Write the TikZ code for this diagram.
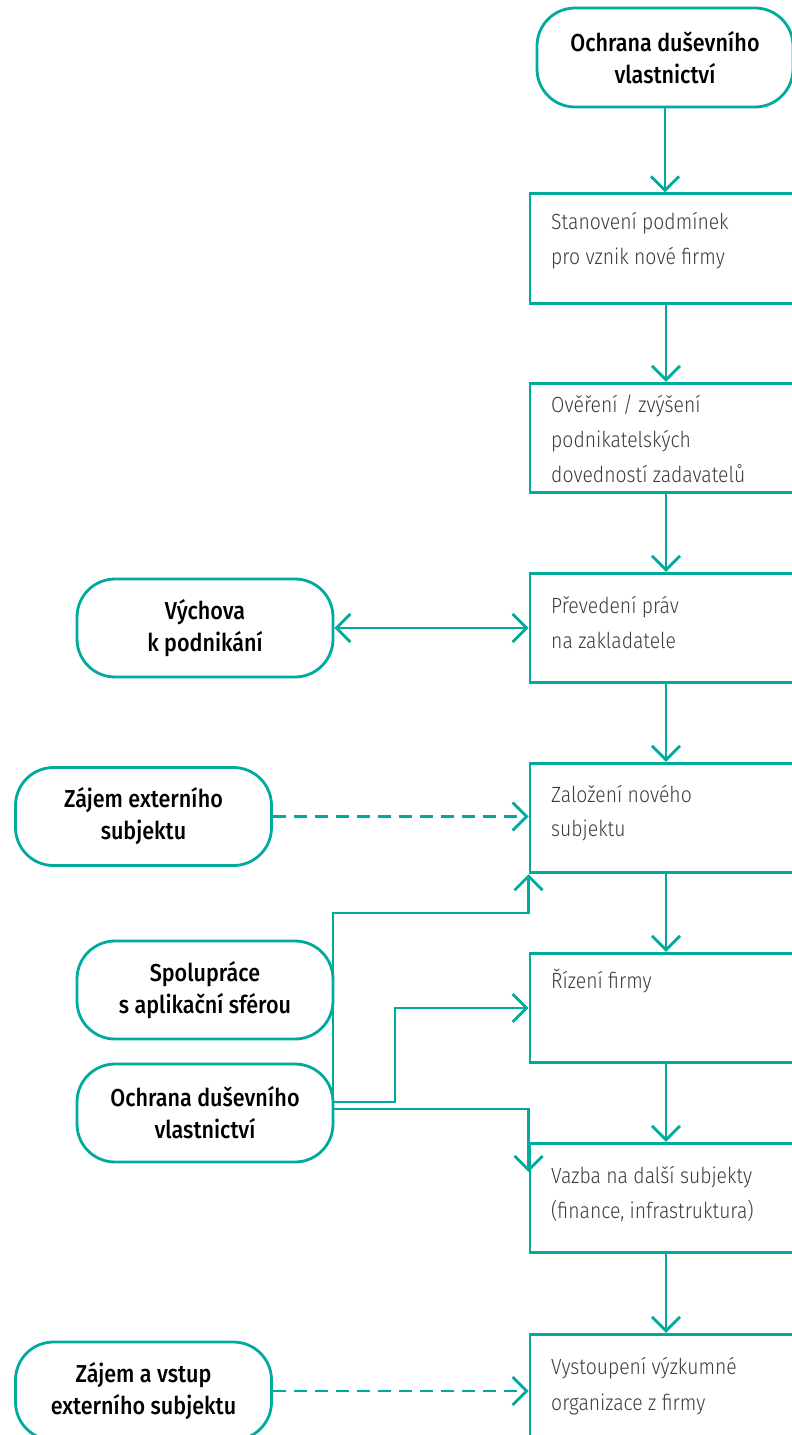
\documentclass[tikz,border=0pt]{standalone}
\usepackage{fontspec}
\usetikzlibrary{arrows.meta}
\definecolor{tealc}{RGB}{0,170,157}
\definecolor{txtgray}{RGB}{60,60,60}
\IfFontExistsTF{Fira Sans Light}{\newfontfamily\lightf[FakeStretch=0.88]{Fira Sans Light}}{\newfontfamily\lightf[FakeStretch=0.88]{Fira Sans}}
\IfFontExistsTF{Fira Sans Medium}{\newfontfamily\medf[FakeStretch=0.88]{Fira Sans Medium}}{\newfontfamily\medf[FakeStretch=0.88]{Fira Sans}}
\tikzset{
  term/.style={draw=tealc, line width=2.8pt, rounded corners=38pt, minimum width=256pt,
    minimum height=98pt, inner sep=0pt, align=center, text=black,
    font=\medf\fontsize{24.5}{32}\selectfont},
  proc/.style={draw=tealc, line width=2.8pt, minimum width=272pt, minimum height=109.5pt, inner sep=0pt},
  ptext/.style={anchor=base west, inner sep=0pt, text=txtgray, font=\lightf\fontsize{22}{35}\selectfont},
  arr/.style={draw=tealc, line width=2.8pt, -{Straight Barb[length=14pt,width=28pt]}},
  darr/.style={draw=tealc, line width=2.8pt, {Straight Barb[length=14pt,width=28pt]}-{Straight Barb[length=14pt,width=28pt]}},
  dsh/.style={dash pattern=on 13pt off 8pt}
}
\begin{document}
\begin{tikzpicture}[x=1pt,y=-1pt]
\useasboundingbox (0,0) rectangle (792,1435);
\clip (0,0) rectangle (792,1435);
\fill[white] (0,0) rectangle (792,1435);
% top terminal
\node[term, minimum height=99pt] (t0) at (665,57.5) {Ochrana duševního\\vlastnictví};
% left terminals
\node[term] (v) at (205,628) {Výchova\\k podnikání};
\node[term] (z1) at (143.5,816.5) {Zájem externího\\subjektu};
\node[term] (s) at (205,990) {Spolupráce\\s aplikační sférou};
\node[term] (o) at (205,1113) {Ochrana duševního\\vlastnictví};
\node[term] (z2) at (143.5,1391) {Zájem a vstup\\externího subjektu};
% process boxes
\node[proc] (b1) at (666,248.5) {};
\node[proc] (b2) at (666,438) {};
\node[proc] (b3) at (666,628) {};
\node[proc] (b4) at (666,818) {};
\node[proc] (b5) at (666,1008) {};
\node[proc] (b6) at (666,1198) {};
\node[proc] (b7) at (666,1389) {};
% box texts
\node[ptext] (b1a) at (551,229) {Stanovení podmínek};
\node[ptext] (b1b) at (551,264) {pro vznik nové firmy};
\node[ptext] (b2a) at (551,412) {Ověření / zvýšení};
\node[ptext] (b2b) at (551,447) {podnikatelských};
\node[ptext] (b2c) at (551,482) {dovedností zadavatelů};
\node[ptext] (b3a) at (551,613) {Převedení práv};
\node[ptext] (b3b) at (551,648) {na zakladatele};
\node[ptext] (b4a) at (551,802) {Založení nového};
\node[ptext] (b4b) at (551,836) {subjektu};
\node[ptext] (b5a) at (551,988) {Řízení firmy};
\node[ptext] (b6a) at (551,1183) {Vazba na další subjekty};
\node[ptext] (b6b) at (551,1218) {(finance, infrastruktura)};
\node[ptext] (b7a) at (551,1374) {Vystoupení výzkumné};
\node[ptext] (b7b) at (551,1410) {organizace z firmy};
% main chain
\draw[arr] (t0.south) -- (t0.south |- b1.north);
\draw[arr] (b1.south) -- (b2.north);
\draw[arr] (b2.south) -- (b3.north);
\draw[arr] (b3.south) -- (b4.north);
\draw[arr] (b4.south) -- (b5.north);
\draw[arr] (b5.south) -- (b6.north);
\draw[arr] (b6.south) -- (b7.north);
% side connectors
\draw[darr] (v.east) -- (v.east -| b3.west);
\draw[arr, dsh] (z1.east) -- (z1.east -| b4.west);
\draw[arr, dsh] (z2.east) -- (z2.east -| b7.west);
% joint network from Spolupráce / Ochrana
\coordinate (j0) at (333,913);
\coordinate (ja) at (333,1102);
\coordinate (jb) at (333,1109);
\coordinate (k1) at (395,1102);
\path (b6.west) ++(0,-26) coordinate (e6);
\draw[arr] (jb) -- (j0) -- (j0 -| b4.west) -- (b4.south west);
\draw[arr] (ja) -- (k1) |- (b5.west);
\draw[arr] (jb) -| (e6);
\end{tikzpicture}
\end{document}
